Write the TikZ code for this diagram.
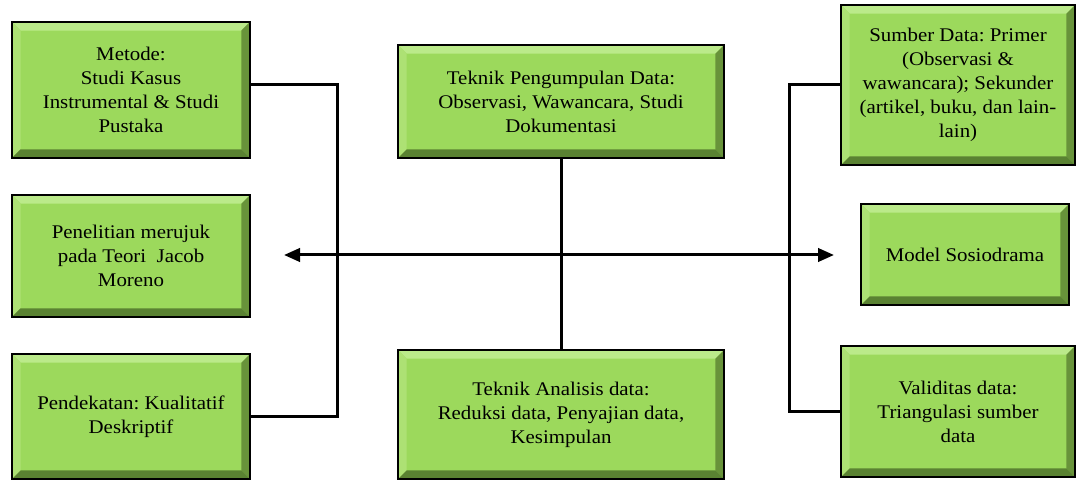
\documentclass[tikz,border=0pt]{standalone}
\usepackage{fontspec}
\setmainfont{Liberation Serif}[FakeStretch=1.08]
\frenchspacing
\usetikzlibrary{arrows.meta,calc}
\definecolor{boxgreen}{HTML}{9CD95C}
\definecolor{bevtop}{HTML}{BBEA8A}
\definecolor{bevleft}{HTML}{ADE174}
\definecolor{bevright}{HTML}{68933A}
\definecolor{bevbottom}{HTML}{5A8232}

\begin{document}
\begin{tikzpicture}[x=0.75pt, y=-0.75pt,
  box/.style={draw=black, line width=1.5pt, fill=boxgreen, align=center,
              font=\fontsize{14.5}{18}\selectfont, inner sep=0pt,
              path picture={
                \path (path picture bounding box.north west) coordinate (bnw)
                      (path picture bounding box.south east) coordinate (bse);
                \fill[bevtop] (bnw) -- (bnw -| bse) -- ++(-6.5pt,-6.5pt) -- ($(bnw)+(6.5pt,-6.5pt)$) -- cycle;
                \fill[bevleft] (bnw) -- ($(bnw)+(6.5pt,-6.5pt)$) -- ($(bnw |- bse)+(6.5pt,6.5pt)$) -- (bnw |- bse) -- cycle;
                \fill[bevright] (bnw -| bse) -- (bse) -- ++(-6.5pt,6.5pt) -- ($(bnw -| bse)+(-6.5pt,-6.5pt)$) -- cycle;
                \fill[bevbottom] (bnw |- bse) -- (bse) -- ++(-6.5pt,6.5pt) -- ($(bnw |- bse)+(6.5pt,6.5pt)$) -- cycle;
              }},
  link/.style={line width=2.25pt},
  arr/.style={line width=2.25pt, {Triangle[length=12pt,width=10pt]}-{Triangle[length=12pt,width=10pt]}}
]
  \useasboundingbox (0,0) rectangle (1076,481);

  % left column
  \node[box, minimum width=178.5pt, minimum height=102pt] (metode) at (131,90)
    {Metode:\\Studi Kasus\\Instrumental \& Studi\\Pustaka};
  \node[box, minimum width=178.5pt, minimum height=91.5pt] (teori) at (131,256)
    {Penelitian merujuk\\pada Teori~ Jacob\\Moreno};
  \node[box, minimum width=178.5pt, minimum height=93.75pt] (pendekatan) at (131,416.5)
    {Pendekatan: Kualitatif\\Deskriptif};

  % centre column
  \node[box, minimum width=244.5pt, minimum height=84.75pt] (pengumpulan) at (561,101.5)
    {Teknik Pengumpulan Data:\\Observasi, Wawancara, Studi\\Dokumentasi};
  \node[box, minimum width=244.5pt, minimum height=96.75pt] (analisis) at (561,414.5)
    {Teknik Analisis data:\\Reduksi data, Penyajian data,\\Kesimpulan};

  % right column
  \node[box, minimum width=175.5pt, minimum height=120pt] (sumber) at (958,85)
    {Sumber Data: Primer\\(Observasi \&\\wawancara); Sekunder\\(artikel, buku, dan lain-\\lain)};
  \node[box, minimum width=156pt, minimum height=75.75pt] (model) at (965,254.5)
    {Model Sosiodrama};
  \node[box, minimum width=175.5pt, minimum height=98.25pt] (validitas) at (958,411.5)
    {Validitas data:\\Triangulasi sumber\\data};

  % connectors
  \coordinate (lbrk) at (337,85);
  \coordinate (rbrk) at (789,85);
  \coordinate (arrl) at (284,255);
  \coordinate (arrr) at (834,255);

  \draw[link] (metode.east |- lbrk) -- (lbrk) |- (pendekatan.east);
  \draw[link] (sumber.west) -- (rbrk) |- (validitas.west);
  \draw[link] (pengumpulan.south) -- (analisis.north);
  \draw[arr] (arrl) -- (arrr);
\end{tikzpicture}
\end{document}
